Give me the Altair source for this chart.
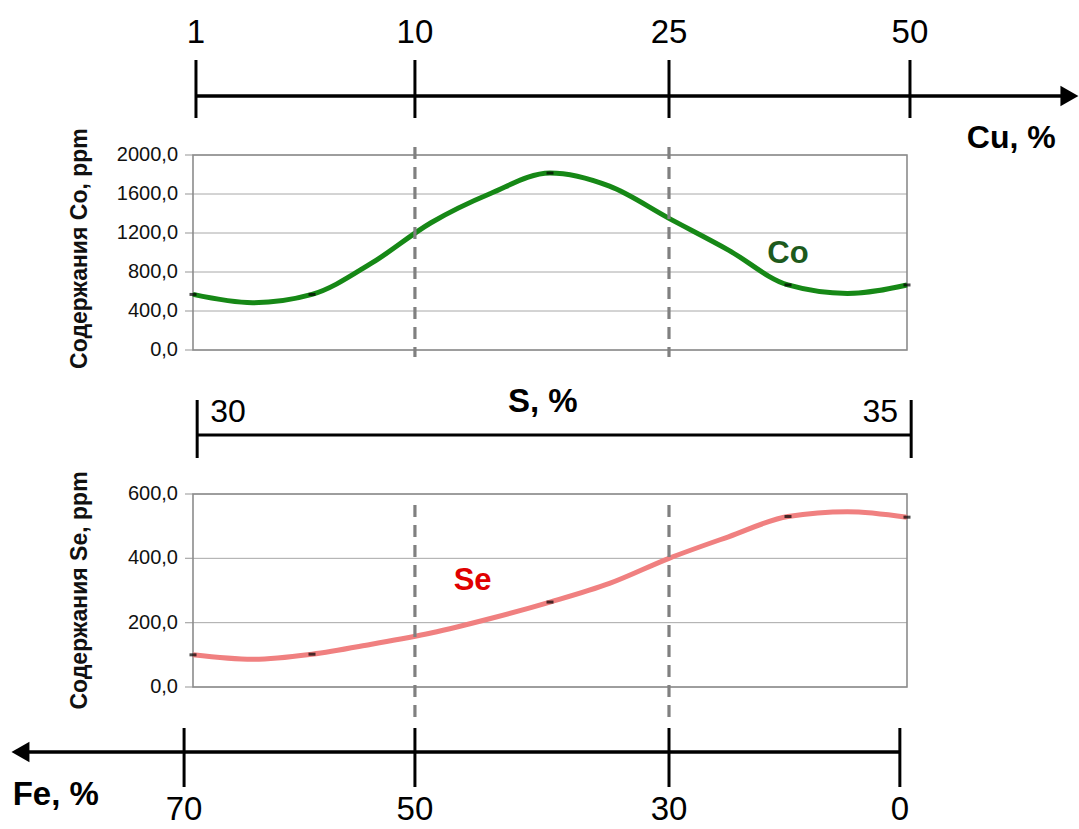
import altair as alt
import pandas as pd

# ---------------- data ----------------
# sample positions along the common horizontal axis (equal steps)
sample_pos = [0, 1, 2, 3, 4, 5, 6, 7, 8, 9, 10, 11, 12]
co_ppm = [570, 485, 570, 890, 1305, 1605, 1815, 1680, 1350, 1025, 667, 580, 667]
se_ppm = [100, 86, 102, 133, 168, 213, 264, 322, 400, 467, 530, 545, 528]
marker_pos = [0, 2, 6, 10, 12]

cu_labels = ["1", "10", "25", "50"]
cu_pos = [0.05, 3.73, 8.0, 12.05]
fe_labels = ["70", "50", "30", "0"]
fe_pos = [-0.15, 3.73, 8.0, 11.88]
s_labels = ["30", "35"]
s_pos = [0.07, 12.07]
dash_pos = [3.73, 8.0]

co_ticks = [0, 400, 800, 1200, 1600, 2000]
co_tick_labels = ["0,0", "400,0", "800,0", "1200,0", "1600,0", "2000,0"]
se_ticks = [0, 200, 400, 600]
se_tick_labels = ["0,0", "200,0", "400,0", "600,0"]

FONT = "Liberation Sans"
xsc = alt.Scale(domain=[0, 12], nice=False, zero=False)
ysc_co = alt.Scale(domain=[0, 2000], range=[350, 155], nice=False, zero=False)
ysc_se = alt.Scale(domain=[0, 600], range=[687, 494], nice=False, zero=False)

line_df = pd.DataFrame({"pos": sample_pos, "co": co_ppm, "se": se_ppm})
mark_df = line_df[line_df["pos"].isin(marker_pos)]
one = pd.DataFrame({"a": [0]})

X = alt.X("pos:Q", scale=xsc, axis=None)
Xd = X


def panel(field, ysc, ymax, ticks_v, ticks_l, title, ymid, color, name, name_pos, name_val, name_color):
    tdf = pd.DataFrame({"v": ticks_v, "lab": ticks_l})
    Yt = alt.Y("v:Q", scale=ysc, axis=None)
    grid = alt.Chart(tdf).mark_rule(color="#a8a8a8", strokeWidth=1).encode(
        x=alt.XDatum(0, scale=xsc, axis=None), x2=alt.X2Datum(12), y=Yt)
    frame = alt.Chart(one).mark_rect(filled=False, stroke="#8c8c8c", strokeWidth=1.6).encode(
        x=alt.XDatum(0, scale=xsc, axis=None), x2=alt.X2Datum(12),
        y=alt.YDatum(0, scale=ysc, axis=None), y2=alt.Y2Datum(ymax))
    tick = alt.Chart(tdf).mark_tick(orient="horizontal", size=8, thickness=1.3, color="#8c8c8c").encode(
        x=alt.XDatum(0, scale=xsc, axis=None), xOffset=alt.value(-4), y=Yt)
    labs = alt.Chart(tdf).mark_text(font=FONT, fontSize=20, color="#111", align="right",
                                    baseline="middle").encode(
        x=alt.XDatum(0, scale=xsc, axis=None), xOffset=alt.value(-15), y=Yt, text="lab:N")
    ttl = alt.Chart(one).mark_text(text=title, font=FONT, fontSize=23, fontWeight="bold",
                                   color="#111", angle=270, align="center", baseline="middle").encode(
        x=alt.XDatum(0, scale=xsc, axis=None), xOffset=alt.value(-113),
        y=alt.YDatum(ymid, scale=ysc, axis=None))
    line = alt.Chart(line_df).mark_line(color=color, strokeWidth=5, interpolate="monotone").encode(
        x=X, y=alt.Y(f"{field}:Q", scale=ysc, axis=None))
    mk = alt.Chart(mark_df).mark_tick(orient="horizontal", size=7, thickness=3, color="black").encode(
        x=X, y=alt.Y(f"{field}:Q", scale=ysc, axis=None))
    txt = alt.Chart(one).mark_text(text=name, font=FONT, fontSize=31, fontWeight="bold",
                                   color=name_color, baseline="middle").encode(
        x=alt.XDatum(name_pos, scale=xsc, axis=None), y=alt.YDatum(name_val, scale=ysc, axis=None))
    return alt.layer(grid, frame, tick, labs, ttl, line, mk, txt)


co_layer = panel("co", ysc_co, 2000, co_ticks, co_tick_labels, "Содержания Co, ppm", 1040,
                 "#168816", "Co", 10.0, 980, "#1d5a1d")
se_layer = panel("se", ysc_se, 600, se_ticks, se_tick_labels, "Содержания Se, ppm", 300,
                 "#f08080", "Se", 4.7, 330, "#e00000")

# ---------- decorations: composition scales ----------
dash_df = pd.DataFrame({"pos": dash_pos})
cu_df = pd.DataFrame({"pos": cu_pos, "lab": cu_labels})
fe_df = pd.DataFrame({"pos": fe_pos, "lab": fe_labels})
s_df = pd.DataFrame({"pos": s_pos, "lab": s_labels})


def hline(x0, x1, y, w=3.5):
    return alt.Chart(one).mark_rule(color="black", strokeWidth=w).encode(
        x=alt.XDatum(x0, scale=xsc, axis=None), x2=alt.X2Datum(x1), y=alt.value(y))


def ticks(df, y0, y1):
    return alt.Chart(df).mark_rule(color="black", strokeWidth=3).encode(
        x=Xd, y=alt.value(y0), y2=alt.value(y1))


def labels(df, y, size=33):
    return alt.Chart(df).mark_text(font=FONT, fontSize=size, color="black", align="center",
                                   baseline="alphabetic").encode(
        x=Xd, y=alt.value(y), text="lab:N")


def word(txt, xpos, y, align, size=32, weight="bold"):
    return alt.Chart(one).mark_text(text=txt, font=FONT, fontSize=size, fontWeight=weight,
                                    color="black", align=align, baseline="alphabetic").encode(
        x=alt.XDatum(xpos, scale=xsc, axis=None), y=alt.value(y))


def arrow(xpos, y, shape):
    return alt.Chart(one).mark_point(shape=shape, filled=True, color="black", opacity=1,
                                     size=430, strokeWidth=0).encode(
        x=alt.XDatum(xpos, scale=xsc, axis=None), y=alt.value(y))


dash_co = alt.Chart(dash_df).mark_rule(color="#808080", strokeWidth=3.2, strokeDash=[12, 8]).encode(
    x=Xd, y=alt.value(147), y2=alt.value(357))
dash_se = alt.Chart(dash_df).mark_rule(color="#808080", strokeWidth=3.2, strokeDash=[12, 8]).encode(
    x=Xd, y=alt.value(505), y2=alt.value(719))

cu_axis = [hline(cu_pos[0], 14.6, 96), arrow(14.73, 96, "triangle-right"),
           ticks(cu_df, 60, 118), labels(cu_df, 43), word("Cu, %", 14.5, 148, "right")]
s_axis = [hline(s_pos[0], s_pos[1], 435, 3), ticks(s_df, 400, 458),
          alt.Chart(s_df.iloc[[0]]).mark_text(font=FONT, fontSize=32, align="left").encode(
              x=Xd, y=alt.value(412), text="lab:N", xOffset=alt.value(13)),
          alt.Chart(s_df.iloc[[1]]).mark_text(font=FONT, fontSize=32, align="right").encode(
              x=Xd, y=alt.value(412), text="lab:N", xOffset=alt.value(-13)),
          word("S, %", 5.88, 412, "center", size=33)]
fe_axis = [hline(-2.85, fe_pos[-1], 752), arrow(-2.9, 752, "triangle-left"),
           ticks(fe_df, 728, 787), labels(fe_df, 820), word("Fe, %", -3.03, 805, "left", size=33)]

chart = alt.layer(
    co_layer, se_layer, dash_co, dash_se, *cu_axis, *s_axis, *fe_axis
).resolve_scale(y="independent").properties(
    width=714, height=829,
    autosize=alt.AutoSizeParams(type="none"),
    padding={"left": 193, "right": 172, "top": 0, "bottom": 0},
    background="white",
).configure_view(stroke=None)

chart.save("out.html", embed_options={"renderer": "svg", "actions": False})
